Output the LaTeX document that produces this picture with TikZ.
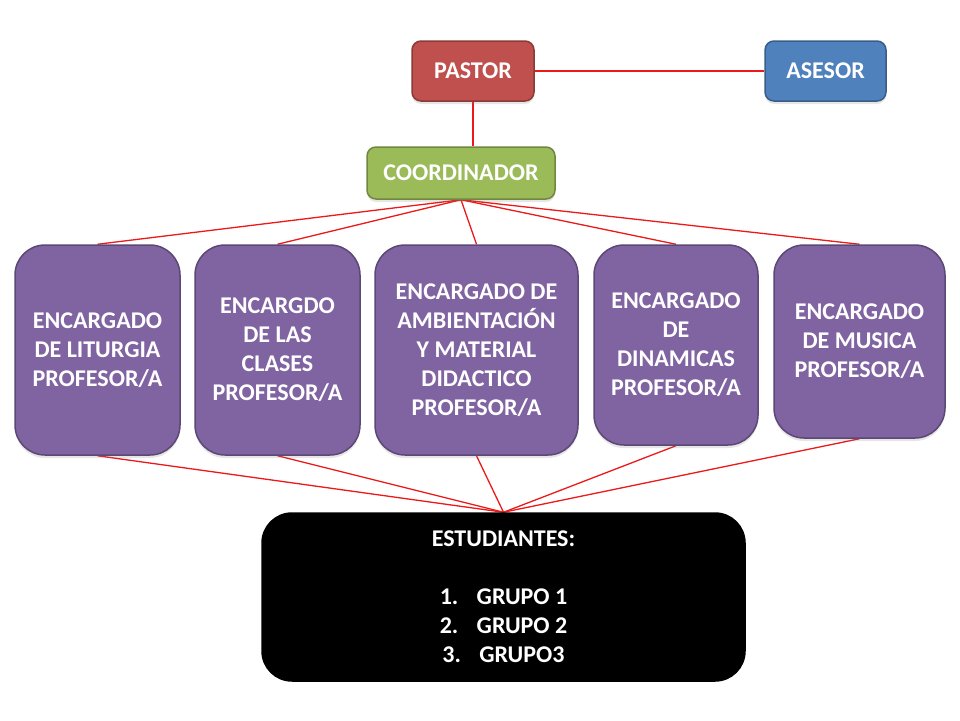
\documentclass[tikz,border=0pt]{standalone}
\usepackage{fontspec}
\setmainfont{Carlito}
\usetikzlibrary{shadows,backgrounds}
\definecolor{pastorred}{RGB}{192,80,77}
\definecolor{asesorblue}{RGB}{79,129,189}
\definecolor{coordgreen}{RGB}{155,187,89}
\definecolor{morado}{RGB}{128,100,162}
\definecolor{linea}{RGB}{235,25,25}

\begin{document}
\begin{tikzpicture}[x=1pt,y=-1pt,
    every node/.style={text=white,font=\fontsize{24}{29}\selectfont\bfseries,align=center,inner sep=0pt,line width=1.5pt},
    sombra/.style={drop shadow={opacity=0.2,shadow xshift=0pt,shadow yshift=-3pt}},
    jefe/.style={draw=#1!72!black,fill=#1,rounded corners=9pt,minimum height=60pt,sombra},
    cargo/.style={draw=morado!72!black,fill=morado,rounded corners=30pt,sombra},
    enlace/.style={draw=linea,line width=1.3pt}]
      \useasboundingbox (0,0) rectangle (960,720);
      % top
      \node[jefe=pastorred,minimum width=122pt] (pastor) at (473,71) {PASTOR};
      \node[jefe=asesorblue,minimum width=121pt] (asesor) at (825.5,71) {ASESOR};
      \node[jefe=coordgreen,minimum width=188pt,minimum height=52pt] (coord) at (461,173) {COORDINADOR};
      % encargados
      \node[cargo,minimum width=165pt,minimum height=210pt] (liturgia) at (97.5,350)
        {ENCARGADO\\DE LITURGIA\\PROFESOR/A};
      \node[cargo,minimum width=165pt,minimum height=210pt] (clases) at (277.5,350)
        {ENCARGDO\\DE LAS\\CLASES\\PROFESOR/A};
      \node[cargo,minimum width=203pt,minimum height=210pt] (ambiente) at (476.5,350)
        {ENCARGADO DE\\AMBIENTACIÓN\\Y MATERIAL\\DIDACTICO\\PROFESOR/A};
      \node[cargo,minimum width=164pt,minimum height=200pt] (dinamicas) at (676,345)
        {ENCARGADO\\DE\\DINAMICAS\\PROFESOR/A};
      \node[cargo,minimum width=171pt,minimum height=193pt] (musica) at (859.5,341.5)
        {ENCARGADO\\DE MUSICA\\PROFESOR/A};
      % estudiantes
      \node[draw=black,fill=black,rounded corners=30pt,minimum width=483pt,minimum height=168pt] (est) at (503.5,597)
        {ESTUDIANTES:\\[29pt]
         \makebox[37pt][l]{1.}GRUPO 1\\
         \makebox[37pt][l]{2.}GRUPO 2\\
         \makebox[37pt][l]{3.}GRUPO3};
      \begin{scope}[on background layer]
        \draw[enlace] (pastor.east) -- (asesor.west);
        \draw[enlace] (pastor.south) -- (pastor.south |- coord.north);
        \foreach \n in {liturgia,clases,ambiente,dinamicas,musica}{
          \draw[enlace] (coord.south) -- (\n.north);
          \draw[enlace] (\n.south) -- (est.north);
        }
      \end{scope}
\end{tikzpicture}
\end{document}
